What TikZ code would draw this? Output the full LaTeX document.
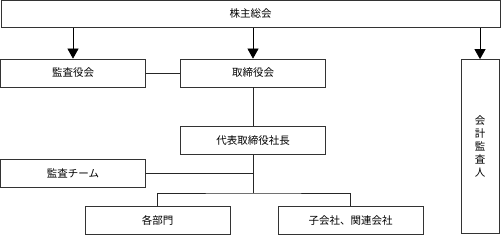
\documentclass[tikz,border=0pt]{standalone}
\usepackage{fontspec}
\setmainfont{Noto Sans CJK JP}
\usetikzlibrary{arrows.meta,positioning,calc}

\begin{document}
\begin{tikzpicture}[
  x=1pt, y=-1pt,
  font=\fontsize{10.5}{13}\selectfont,
  box/.style={draw=black!80, line width=0.7pt, align=center,
              minimum width=145pt, minimum height=28pt, inner sep=0pt},
  arr/.style={-{Triangle[width=11pt,length=10pt]}, draw=black, line width=0.7pt},
  ln/.style={draw=black!85, line width=0.7pt}
]
\useasboundingbox (0,0) rectangle (501,235);

\node[box, minimum width=499pt, minimum height=27pt] (gm) at (250.5,14) {株主総会};
\node[box] (kansa) at (73,73) {監査役会};
\node[box] (board) at (253,73) {取締役会};
\node[box] (ceo) at (253,140.5) {代表取締役社長};
\node[box] (team) at (73,173) {監査チーム};
\node[box] (bumon) at (157.5,220.5) {各部門};
\node[box] (kogaisha) at (350.5,220.5) {子会社、関連会社};
\node[box, minimum width=38pt, minimum height=174pt] (auditor) at (480,146.5)
  {会\\計\\監\\査\\人};
\coordinate (j) at (253,193);

\draw[arr] (gm.south -| kansa) -- (kansa.north);
\draw[arr] (gm.south -| board) -- (board.north);
\draw[arr] (gm.south -| auditor) -- (auditor.north);
\draw[ln] (kansa) -- (board);
\draw[ln] (board) -- (ceo);
\draw[ln] (team.east) -- (team.east -| ceo);
\draw[ln] (ceo) -- (j);
\draw[ln] (bumon.north) |- (j) -| (kogaisha.north);
\end{tikzpicture}
\end{document}
